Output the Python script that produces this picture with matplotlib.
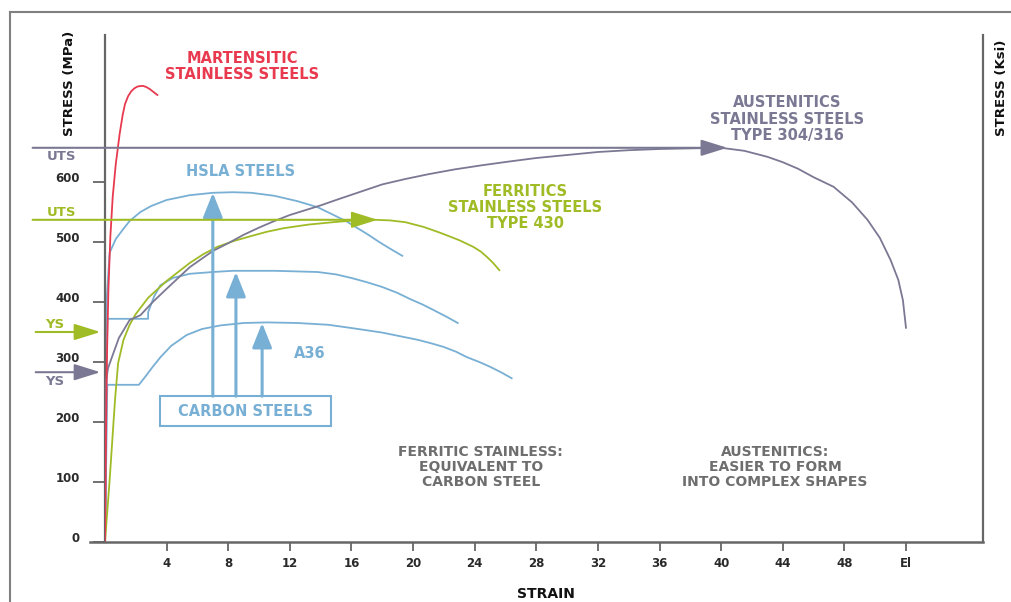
import matplotlib
matplotlib.use("Agg")
import matplotlib.pyplot as plt
from matplotlib.lines import Line2D
from matplotlib.patches import Rectangle

plt.rcParams['font.family'] = ['DejaVu Sans']

# ---- data (strain %, stress MPa) ----
mart_strain = [0, 0.05, 0.12, 0.22, 0.35, 0.5, 0.7, 0.95, 1.15, 1.3, 1.5, 1.7, 1.9, 2.1,
               2.3, 2.5, 2.7, 2.9, 3.15, 3.4]
mart_stress = [0, 150, 300, 420, 510, 575, 630, 680, 712, 730, 743, 751, 756, 759,
               760, 760, 758, 755, 750, 745]

aust_strain = [0, 0.08, 0.2, 0.45, 0.9, 1.6, 2.3, 3.1, 4, 5.5, 7, 8, 9, 10, 11, 12, 13,
               14, 15, 16.5, 18, 19.5, 21, 22.7, 24.5, 26.2, 28, 30, 32, 34, 36, 38, 40,
               41.5, 43, 44, 45, 46, 47.3, 48.5, 49.5, 50.3, 51, 51.5, 51.8, 52]
aust_stress = [0, 270, 290, 308, 340, 370, 378, 400, 422, 458, 485, 498, 512, 524, 535,
               545, 553, 561, 570, 583, 596, 605, 613, 621, 628, 634, 640, 645, 650, 653,
               655, 656, 657, 652, 642, 633, 622, 608, 592, 566, 537, 507, 470, 437, 403, 357]

ferr_strain = [0, 0.3, 0.65, 0.85, 1.2, 1.6, 2, 2.8, 4, 5.5, 6.4, 7.3, 8.4, 9.5, 10.5,
               11.6, 13.2, 14.8, 16.2, 17.5, 18.5, 19.5, 20.7, 21.8, 23, 23.9, 24.4,
               24.8, 25.2, 25.6]
ferr_stress = [0, 103, 237, 298, 337, 362, 380, 407, 435, 465, 480, 492, 502, 510, 517,
               523, 529, 533, 536, 537, 536, 533, 525, 515, 503, 492, 484, 475, 465, 453]

hsla_strain = [0, 0.1, 0.3, 0.7, 1.2, 1.6, 2.3, 3, 4, 5.5, 7, 8.3, 9.5, 11, 12.5, 13.8,
               15, 15.7, 16.4, 17.1, 17.8, 18.5, 19.3]
hsla_stress = [0, 400, 482, 505, 522, 535, 550, 560, 570, 578, 582, 583, 582, 577, 568,
               558, 543, 534, 523, 512, 500, 489, 477]

mid_strain = [0, 0.15, 2.8, 2.8, 3.2, 3.6, 4.4, 5.5, 7, 8.3, 11, 13.8, 15, 16, 17, 18,
              19, 19.8, 20.6, 21.3, 22.2, 22.9]
mid_stress = [0, 372, 372, 383, 410, 428, 440, 447, 450, 452, 452, 450, 446, 440, 433, 425,
              415, 405, 396, 387, 375, 365]

a36_strain = [0, 0.15, 2.2, 2.6, 3.1, 3.6, 4.3, 5.3, 6.3, 7.5, 9, 10.5, 12.5, 14.5, 15.9,
              18, 20.3, 21.2, 22, 22.8, 23.5, 24.3, 25, 25.7, 26.4]
a36_stress = [0, 262, 262, 275, 292, 308, 327, 345, 355, 361, 365, 366, 365, 362, 357,
              349, 337, 331, 325, 317, 308, 300, 292, 283, 273]

aust_uts, aust_uts_strain, aust_ys = 657, 40.4, 283
ferr_uts, ferr_uts_strain, ferr_ys = 537, 17.7, 350

carbon_arrow_x = [7.0, 8.5, 10.2]
carbon_arrow_tip = [582, 450, 365]

xticks = [4, 8, 12, 16, 20, 24, 28, 32, 36, 40, 44, 48, 52]
xlabels = ['4', '8', '12', '16', '20', '24', '28', '32', '36', '40', '44', '48', 'El']
yticks = [0, 100, 200, 300, 400, 500, 600]

RED = '#e8394f'
PURPLE = '#7b7894'
GREEN = '#9fbb25'
BLUE = '#78afd4'
GRAY = '#6e6e6e'
AXC = '#666666'

fig = plt.figure(figsize=(10.11, 6.02), dpi=100)
ax = fig.add_axes([105 / 1011, 60 / 602, 878 / 1011, 507 / 602])
ax.set_xlim(0, 57)
ax.set_ylim(0, 845)

for s in ['top', 'bottom']:
    ax.spines[s].set_visible(False)
for s in ['left', 'right']:
    ax.spines[s].set_color(AXC)
    ax.spines[s].set_linewidth(1.6)
ax.plot([-1, 57], [0, 0], color=AXC, lw=1.8, clip_on=False, zorder=5)

ax.yaxis.set_ticks_position('left')
ax.set_yticks(yticks)
ax.set_yticklabels([str(v) for v in yticks], va='baseline', fontweight='bold')
ax.set_xticks(xticks)
ax.set_xticklabels(xlabels, fontweight='bold')
ax.tick_params(axis='y', length=9, width=1.3, color=AXC, pad=9, labelsize=8.5, labelcolor='#2a2a2a')
ax.tick_params(axis='x', length=6.5, width=1.3, color=AXC, pad=4, labelsize=8.5, labelcolor='#2a2a2a')

# curves
ax.plot(a36_strain, a36_stress, color=BLUE, lw=1.3, zorder=2)
ax.plot(mid_strain, mid_stress, color=BLUE, lw=1.3, zorder=2)
ax.plot(hsla_strain, hsla_stress, color=BLUE, lw=1.3, zorder=2)
ax.plot(ferr_strain, ferr_stress, color=GREEN, lw=1.3, zorder=3)
ax.plot(aust_strain, aust_stress, color=PURPLE, lw=1.3, zorder=3)
ax.plot(mart_strain, mart_stress, color=RED, lw=1.3, zorder=4)

# UTS / YS arrows
head = '-|>,head_length=0.8,head_width=0.25'
for y, xt, c in [(aust_uts, aust_uts_strain, PURPLE), (ferr_uts, ferr_uts_strain, GREEN),
                 (aust_ys, -0.3, PURPLE), (ferr_ys, -0.3, GREEN)]:
    x0 = -4.7 if xt > 0 else -4.5
    ax.annotate('', xy=(xt, y), xytext=(x0, y), annotation_clip=False,
                arrowprops=dict(arrowstyle=head, mutation_scale=20, color=c, lw=1.5,
                                shrinkA=0, shrinkB=0), zorder=4)

ax.text(-2.8, aust_uts - 15, 'UTS', color=PURPLE, fontsize=9.5, fontweight='bold',
        ha='center', va='center')
ax.text(-2.8, ferr_uts + 13, 'UTS', color=GREEN, fontsize=9.5, fontweight='bold',
        ha='center', va='center')
ax.text(-3.25, ferr_ys + 13, 'YS', color=GREEN, fontsize=9.5, fontweight='bold',
        ha='center', va='center')
ax.text(-3.25, aust_ys - 16, 'YS', color=PURPLE, fontsize=9.5, fontweight='bold',
        ha='center', va='center')

# carbon steel arrows and box
for xa, tip in zip(carbon_arrow_x, carbon_arrow_tip):
    ax.annotate('', xy=(xa, tip), xytext=(xa, 243),
                arrowprops=dict(arrowstyle='-|>,head_length=0.75,head_width=0.3',
                                mutation_scale=20, color=BLUE, lw=2.2,
                                shrinkA=0, shrinkB=0), zorder=3)
ax.add_patch(Rectangle((3.6, 193), 11.1, 50, fill=False, edgecolor=BLUE, lw=1.5, zorder=3))
ax.text(9.15, 218, 'CARBON STEELS', color=BLUE, fontsize=10.5, fontweight='bold',
        ha='center', va='center')

ax.text(13.3, 315, 'A36', color=BLUE, fontsize=10.5, fontweight='bold', ha='center', va='center')
ax.text(8.8, 617, 'HSLA STEELS', color=BLUE, fontsize=10.5, fontweight='bold',
        ha='center', va='center')
ax.text(8.9, 792, 'MARTENSITIC\nSTAINLESS STEELS', color=RED, fontsize=10.5,
        fontweight='bold', ha='center', va='center', linespacing=1.1)
ax.text(44.3, 705, 'AUSTENITICS\nSTAINLESS STEELS\nTYPE 304/316', color=PURPLE,
        fontsize=10.5, fontweight='bold', ha='center', va='center', linespacing=1.1)
ax.text(27.3, 557, 'FERRITICS\nSTAINLESS STEELS\nTYPE 430', color=GREEN, fontsize=10.5,
        fontweight='bold', ha='center', va='center', linespacing=1.1)
ax.text(24.4, 125, 'FERRITIC STAINLESS:\nEQUIVALENT TO\nCARBON STEEL', color=GRAY,
        fontsize=10, fontweight='bold', ha='center', va='center', linespacing=1.05)
ax.text(43.5, 125, 'AUSTENITICS:\nEASIER TO FORM\nINTO COMPLEX SHAPES', color=GRAY,
        fontsize=10, fontweight='bold', ha='center', va='center', linespacing=1.05)

# axis titles
fig.text(69 / 1011, 1 - 83 / 602, 'STRESS (MPa)', rotation=90, ha='center', va='center',
         fontsize=9.5, fontweight='bold', color='#111',
         family=['Liberation Sans Narrow', 'DejaVu Sans'])
fig.text(1002 / 1011, 1 - 88 / 602, 'STRESS (Ksi)', rotation=90, ha='center', va='center',
         fontsize=9.5, fontweight='bold', color='#111',
         family=['Liberation Sans Narrow', 'DejaVu Sans'])
fig.text(546 / 1011, 1 - 594 / 602, 'STRAIN', ha='center', va='center', fontsize=10,
         fontweight='bold', color='#111')

# outer frame
fy = 1 - 12 / 602
fx = 10 / 1011
fig.add_artist(Line2D([fx, fx], [0, fy], color='#808080', lw=1.5))
fig.add_artist(Line2D([fx, 1], [fy, fy], color='#808080', lw=1.5))

fig.savefig('out.png', dpi=100)
